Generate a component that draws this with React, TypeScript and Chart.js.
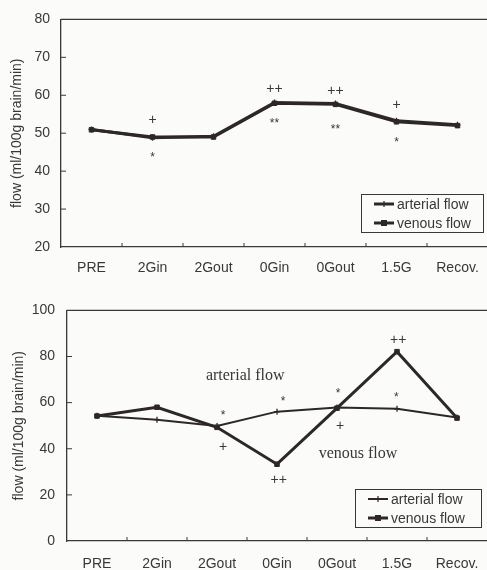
import React, { useEffect, useRef } from "react";
import { Chart, registerables } from "chart.js";

Chart.register(...registerables);

const categories = ["PRE", "2Gin", "2Gout", "0Gin", "0Gout", "1.5G", "Recov."];

// Top chart
const topArterial = [51.0, 48.8, 49.2, 58.1, 57.8, 53.3, 52.2];
const topVenous = [50.9, 49.0, 49.0, 57.9, 57.6, 53.0, 52.0];
const topYTicks = [20, 30, 40, 50, 60, 70, 80];
const topNoteText = ["+", "*", "++", "**", "++", "**", "+", "*"];
const topNoteX = [1, 1, 3, 3, 4, 4, 5, 5];
const topNoteY = [53.4, 44.4, 61.7, 53.4, 61.1, 51.6, 57.3, 48.3];

// Bottom chart
const botArterial = [54.3, 52.6, 49.9, 56.1, 57.9, 57.3, 53.6];
const botVenous = [54.2, 58.0, 49.3, 33.3, 57.6, 82.1, 53.3];
const botYTicks = [0, 20, 40, 60, 80, 100];
const botNoteText = ["*", "+", "*", "++", "*", "+", "++", "*"];
const botNoteX = [2.1, 2.1, 3.1, 3.03, 4.02, 4.05, 5.02, 4.99];
const botNoteY = [55.8, 40.8, 61.8, 26.6, 65.1, 49.7, 87.0, 63.4];
const botLabelText = ["arterial flow", "venous flow"];
const botLabelX = [2.47, 4.35];
const botLabelY = [71.6, 37.8];

const legendNames = ["arterial flow", "venous flow"];
const yTitle = "flow (ml/100g brain/min)";

const INK = "#2e2728";
const TEXT = "#383838";
const BG = "#fbfbfa";
const SANS = "'Liberation Sans', Arial, sans-serif";
const SERIF = "'Liberation Serif', 'Times New Roman', serif";

function makePlugin(cfg: any) {
  return {
    id: "custom" + cfg.key,
    beforeDraw(chart: any) {
      const ctx = chart.ctx;
      ctx.save();
      ctx.fillStyle = BG;
      ctx.fillRect(0, 0, chart.width, chart.height);
      ctx.restore();
    },
    afterDraw(chart: any) {
      const ctx = chart.ctx;
      const ca = chart.chartArea;
      const xs = chart.scales.x;
      const ys = chart.scales.y;
      ctx.save();
      ctx.strokeStyle = TEXT;
      ctx.lineWidth = 1.3;
      // top border
      ctx.beginPath();
      ctx.moveTo(ca.left, ca.top);
      ctx.lineTo(ca.right, ca.top);
      ctx.stroke();
      // inward y ticks
      ctx.lineWidth = 1;
      ys.ticks.forEach((t: any, i: number) => {
        const p = ys.getPixelForTick(i);
        if (Math.abs(p - ca.top) < 1 || Math.abs(p - ca.bottom) < 1) return;
        ctx.beginPath();
        ctx.moveTo(ca.left, p);
        ctx.lineTo(ca.left + 5, p);
        ctx.stroke();
      });
      // inward x ticks at category boundaries
      for (let i = 1; i < categories.length; i++) {
        const p = (xs.getPixelForValue(i - 1) + xs.getPixelForValue(i)) / 2;
        ctx.beginPath();
        ctx.moveTo(p, ca.bottom);
        ctx.lineTo(p, ca.bottom - 4);
        ctx.stroke();
      }
      // annotations
      ctx.fillStyle = TEXT;
      ctx.textAlign = "center";
      ctx.textBaseline = "middle";
      cfg.noteText.forEach((t: string, i: number) => {
        const x = xs.getPixelForValue(cfg.noteX[i]);
        let y = ys.getPixelForValue(cfg.noteY[i]);
        if (t.indexOf("*") >= 0) {
          ctx.font = "12px " + SANS;
          y += 3;
        } else {
          ctx.font = "14px " + SANS;
        }
        ctx.fillText(t, x, y);
      });
      if (cfg.labelText) {
        ctx.font = "16px " + SERIF;
        cfg.labelText.forEach((t: string, i: number) => {
          ctx.fillText(t, xs.getPixelForValue(cfg.labelX[i]), ys.getPixelForValue(cfg.labelY[i]));
        });
      }
      // legend
      const lw = cfg.legend.w;
      const lh = cfg.legend.h;
      const lx = ca.right - cfg.legend.dr - lw;
      const ly = ca.bottom - cfg.legend.db - lh;
      ctx.fillStyle = BG;
      ctx.fillRect(lx, ly, lw, lh);
      ctx.strokeStyle = TEXT;
      ctx.lineWidth = 1;
      ctx.strokeRect(lx + 0.5, ly + 0.5, lw, lh);
      ctx.font = "14px " + SANS;
      ctx.textAlign = "left";
      ctx.fillStyle = TEXT;
      chart.data.datasets.forEach((ds: any, i: number) => {
        const ry = ly + 10 + i * 19;
        ctx.strokeStyle = INK;
        ctx.lineWidth = ds.borderWidth;
        ctx.beginPath();
        ctx.moveTo(lx + 13, ry);
        ctx.lineTo(lx + 33, ry);
        ctx.stroke();
        ctx.fillStyle = INK;
        if (ds.pointStyle === "rect") {
          ctx.fillRect(lx + 20, ry - 3, 6, 6);
        } else {
          ctx.lineWidth = 1.2;
          ctx.beginPath();
          ctx.moveTo(lx + 23, ry - 3);
          ctx.lineTo(lx + 23, ry + 3);
          ctx.stroke();
        }
        ctx.fillStyle = TEXT;
        ctx.fillText(legendNames[i], lx + 36, ry + 1);
      });
      ctx.restore();
    },
  };
}

function buildConfig(cfg: any) {
  return {
    type: "line",
    data: {
      labels: categories,
      datasets: [
        {
          label: legendNames[0],
          data: cfg.arterial,
          borderColor: INK,
          backgroundColor: INK,
          borderWidth: cfg.artWidth,
          pointStyle: "cross",
          pointRadius: 3,
          pointBorderWidth: 1.3,
          tension: 0,
        },
        {
          label: legendNames[1],
          data: cfg.venous,
          borderColor: INK,
          backgroundColor: INK,
          borderWidth: 3,
          pointStyle: "rect",
          pointRadius: 3.2,
          pointBorderWidth: 1,
          tension: 0,
        },
      ],
    },
    options: {
      animation: false,
      responsive: false,
      maintainAspectRatio: false,
      devicePixelRatio: 1,
      layout: { padding: { top: cfg.padTop, right: cfg.padRight, left: 0, bottom: 0 } },
      plugins: { legend: { display: false }, tooltip: { enabled: false } },
      scales: {
        x: {
          type: "category",
          offset: true,
          grid: { display: false, drawTicks: false },
          border: { display: true, color: TEXT, width: 1.3 },
          ticks: { color: TEXT, font: { family: SANS, size: 14 }, padding: cfg.xPad, maxRotation: 0, autoSkip: false },
          afterFit: (s: any) => {
            s.height = cfg.xHeight;
          },
        },
        y: {
          min: cfg.yTicks[0],
          max: cfg.yTicks[cfg.yTicks.length - 1],
          afterBuildTicks: (s: any) => {
            s.ticks = cfg.yTicks.map((v: number) => ({ value: v }));
          },
          grid: { display: false, drawTicks: false },
          border: { display: true, color: TEXT, width: 1.3 },
          ticks: { color: TEXT, font: { family: SANS, size: 14 }, padding: cfg.yPad },
          title: {
            display: true,
            text: yTitle,
            color: TEXT,
            font: { family: SANS, size: 14 },
            padding: { top: cfg.titlePad, bottom: 0 },
          },
          afterFit: (s: any) => {
            s.width = cfg.yWidth;
          },
        },
      },
    },
    plugins: [makePlugin(cfg)],
  };
}

const topCfg = {
  key: "top",
  arterial: topArterial,
  venous: topVenous,
  artWidth: 3,
  yTicks: topYTicks,
  noteText: topNoteText,
  noteX: topNoteX,
  noteY: topNoteY,
  labelText: null,
  padTop: 14,
  padRight: 7,
  xHeight: 43,
  yWidth: 61,
  xPad: 13,
  yPad: 11,
  titlePad: 9,
  legend: { w: 122, h: 38, dr: 5, db: 15 },
};

const botCfg = {
  key: "bot",
  arterial: botArterial,
  venous: botVenous,
  artWidth: 2,
  yTicks: botYTicks,
  noteText: botNoteText,
  noteX: botNoteX,
  noteY: botNoteY,
  labelText: botLabelText,
  labelX: botLabelX,
  labelY: botLabelY,
  padTop: 18,
  padRight: 8,
  xHeight: 29,
  yWidth: 67,
  xPad: 15,
  yPad: 12,
  titlePad: 11,
  legend: { w: 126, h: 38, dr: 6, db: 14 },
};

function ChartCanvas(props: { cfg: any; top: number; height: number }) {
  const ref = useRef<HTMLCanvasElement | null>(null);
  useEffect(() => {
    if (!ref.current) return;
    const chart = new Chart(ref.current, buildConfig(props.cfg) as any);
    return () => chart.destroy();
  }, []);
  return (
    <canvas
      ref={ref}
      width={495}
      height={props.height}
      style={{ position: "absolute", left: 0, top: props.top, width: 495, height: props.height }}
    />
  );
}

export default function App() {
  return (
    <div
      style={{
        position: "fixed",
        left: 0,
        top: 0,
        width: 487,
        height: 570,
        overflow: "hidden",
        background: BG,
      }}
    >
      <ChartCanvas cfg={topCfg} top={0} height={290} />
      <ChartCanvas cfg={botCfg} top={290} height={280} />
    </div>
  );
}
